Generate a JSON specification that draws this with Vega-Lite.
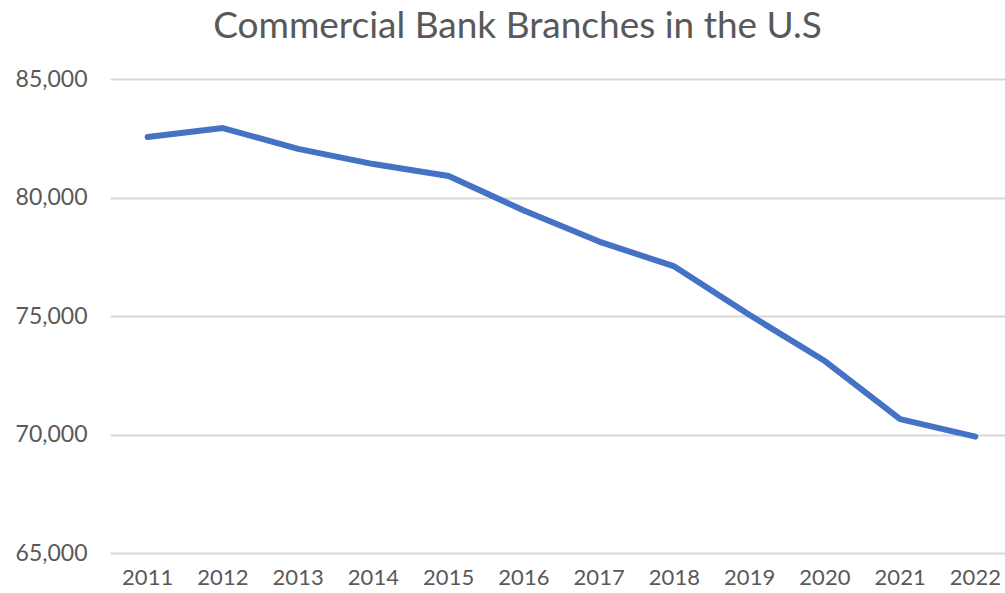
{
  "$schema": "https://vega.github.io/schema/vega-lite/v6.json",
  "autosize": {"type": "none"},
  "width": 903,
  "height": 474,
  "padding": {"left": 110, "top": 79, "right": 0, "bottom": 40},
  "background": "white",
  "title": {
    "text": "Commercial Bank Branches in the U.S",
    "font": "Lato",
    "fontSize": 37,
    "fontWeight": "normal",
    "color": "#595959",
    "anchor": "middle",
    "baseline": "top",
    "offset": 22,
    "dx": -44
  },
  "data": {
    "values": [
      {"year": "2011", "branches": 82550},
      {"year": "2012", "branches": 82930},
      {"year": "2013", "branches": 82050},
      {"year": "2014", "branches": 81410},
      {"year": "2015", "branches": 80910},
      {"year": "2016", "branches": 79450},
      {"year": "2017", "branches": 78140},
      {"year": "2018", "branches": 77090},
      {"year": "2019", "branches": 75040},
      {"year": "2020", "branches": 73100},
      {"year": "2021", "branches": 70650},
      {"year": "2022", "branches": 69910}
    ]
  },
  "mark": {"type": "line", "color": "#4472C4", "strokeWidth": 6, "strokeCap": "round", "strokeJoin": "round"},
  "encoding": {
    "x": {
      "field": "year",
      "type": "ordinal",
      "scale": {"type": "band", "paddingInner": 0, "paddingOuter": 0},
      "axis": {
        "title": null,
        "labelAngle": 0,
        "domain": false,
        "ticks": false,
        "grid": false,
        "labelFont": "Lato",
        "labelFontSize": 22,
        "labelColor": "#595959",
        "labelPadding": 14
      }
    },
    "y": {
      "field": "branches",
      "type": "quantitative",
      "scale": {"domain": [65000, 85000], "nice": false, "zero": false},
      "axis": {
        "title": null,
        "values": [65000, 70000, 75000, 80000, 85000],
        "format": ",.0f",
        "domain": false,
        "ticks": false,
        "grid": true,
        "gridColor": "#d9d9d9",
        "gridWidth": 2,
        "labelFont": "Lato",
        "labelFontSize": 23,
        "labelColor": "#595959",
        "labelPadding": 23
      }
    }
  },
  "config": {"view": {"stroke": null}}
}
